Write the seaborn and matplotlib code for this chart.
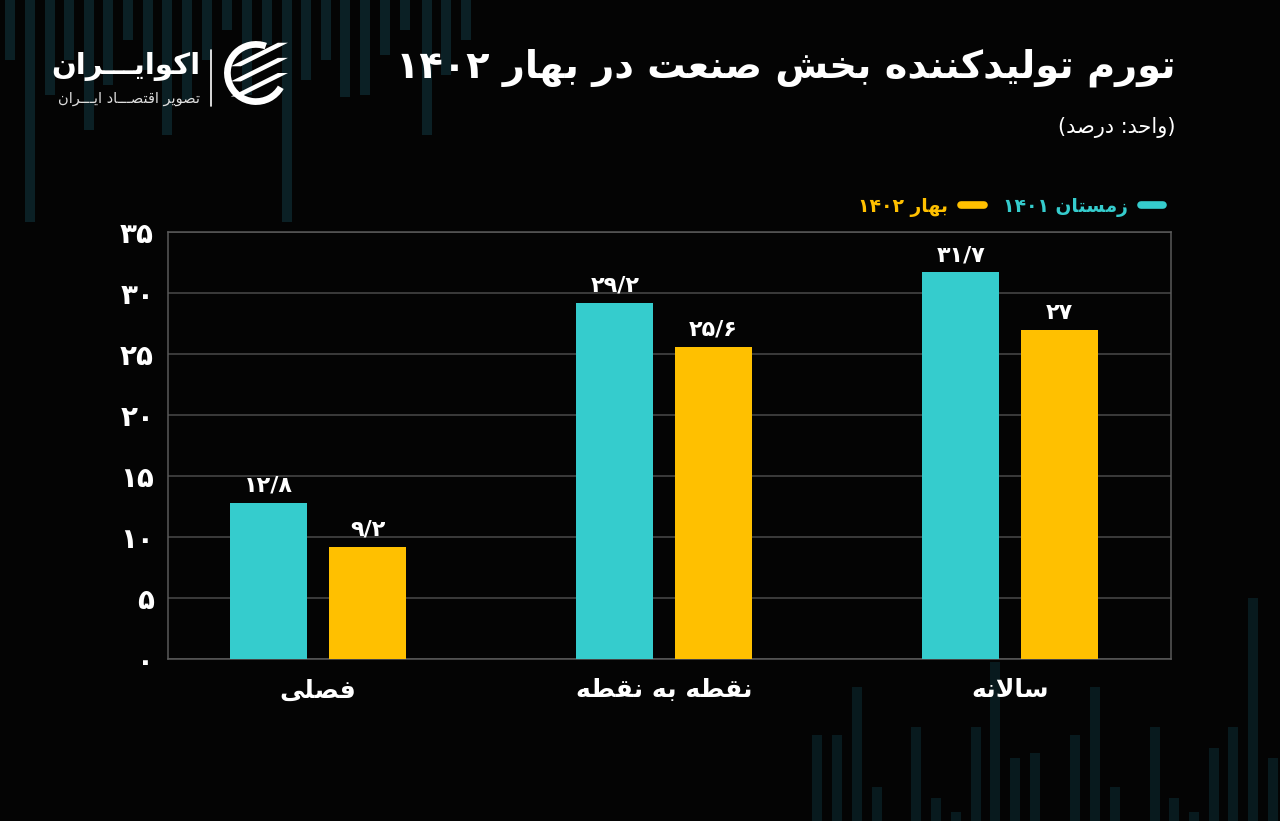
import pandas as pd
import matplotlib
matplotlib.use("Agg")
import matplotlib.pyplot as plt
from matplotlib.lines import Line2D
from matplotlib.patches import Wedge, Polygon
import seaborn as sns

# chart data
categories = ["فصلی", "نقطه به نقطه", "سالانه"]
series_names = ["زمستان ۱۴۰۱", "بهار ۱۴۰۲"]
winter_1401 = [12.8, 29.2, 31.7]
spring_1402 = [9.2, 25.6, 27.0]
y_ticks = [0, 5, 10, 15, 20, 25, 30, 35]

title = "تورم تولیدکننده بخش صنعت در بهار ۱۴۰۲"
subtitle = "(واحد: درصد)"
brand = "اکوایـــران"
brand_sub = "تصویر اقتصـــاد ایـــران"

# faint decorative columns in the background
deco_top_x = [10, 30, 50, 69, 89, 108, 128, 148, 167, 187, 207, 227, 247, 267, 287, 306, 326, 345, 365, 385, 405, 427, 446, 466]
deco_top_end = [60, 222, 95, 60, 130, 85, 40, 70, 135, 100, 60, 30, 95, 45, 222, 80, 60, 97, 95, 55, 30, 135, 75, 40]
deco_bot_x = [817, 837, 857, 877, 916, 936, 956, 976, 995, 1015, 1035, 1075, 1095, 1115, 1155, 1174, 1194, 1214, 1233, 1253, 1273]
deco_bot_start = [735, 735, 687, 787, 727, 798, 812, 727, 662, 758, 753, 735, 687, 787, 727, 798, 812, 748, 727, 598, 758]

CYAN = "#35cccd"
YELLOW = "#ffc000"
BG = "#040404"

# --- minimal Persian shaping (no arabic_reshaper available) ---
FORMS = {
    "ا": ("\ufe8d", "\ufe8e", None, None),
    "ب": ("\ufe8f", "\ufe90", "\ufe91", "\ufe92"),
    "ت": ("\ufe95", "\ufe96", "\ufe97", "\ufe98"),
    "ح": ("\ufea1", "\ufea2", "\ufea3", "\ufea4"),
    "خ": ("\ufea5", "\ufea6", "\ufea7", "\ufea8"),
    "د": ("\ufea9", "\ufeaa", None, None),
    "ر": ("\ufead", "\ufeae", None, None),
    "ز": ("\ufeaf", "\ufeb0", None, None),
    "س": ("\ufeb1", "\ufeb2", "\ufeb3", "\ufeb4"),
    "ش": ("\ufeb5", "\ufeb6", "\ufeb7", "\ufeb8"),
    "ص": ("\ufeb9", "\ufeba", "\ufebb", "\ufebc"),
    "ط": ("\ufec1", "\ufec2", "\ufec3", "\ufec4"),
    "ع": ("\ufec9", "\ufeca", "\ufecb", "\ufecc"),
    "ف": ("\ufed1", "\ufed2", "\ufed3", "\ufed4"),
    "ق": ("\ufed5", "\ufed6", "\ufed7", "\ufed8"),
    "ک": ("\ufb8e", "\ufb8f", "\ufb90", "\ufb91"),
    "ل": ("\ufedd", "\ufede", "\ufedf", "\ufee0"),
    "م": ("\ufee1", "\ufee2", "\ufee3", "\ufee4"),
    "ن": ("\ufee5", "\ufee6", "\ufee7", "\ufee8"),
    "ه": ("\ufee9", "\ufeea", "\ufeeb", "\ufeec"),
    "و": ("\ufeed", "\ufeee", None, None),
    "ی": ("\ufbfc", "\ufbfd", "\ufbfe", "\ufbff"),
    "ـ": ("ـ", "ـ", "ـ", "ـ"),
    "\ue000": ("\ufefb", "\ufefc", None, None),  # lam-alef
}
DIGITS = set("۰۱۲۳۴۵۶۷۸۹/")
MIRROR = {"(": ")", ")": "("}
TO_FA = str.maketrans("0123456789.", "۰۱۲۳۴۵۶۷۸۹/")


def fa(text):
    s = text.replace("لا", "\ue000")
    glyphs = []
    for i, c in enumerate(s):
        if c not in FORMS:
            glyphs.append(c)
            continue
        prev = s[i - 1] if i > 0 else ""
        nxt = s[i + 1] if i + 1 < len(s) else ""
        jp = prev in FORMS and FORMS[prev][2] is not None
        jn = FORMS[c][2] is not None and nxt in FORMS
        iso, fin, ini, med = FORMS[c]
        glyphs.append(med if jp and jn else fin if jp else ini if jn else iso)
    tokens = []
    for g in glyphs:
        if g in DIGITS and tokens and tokens[-1][0] in DIGITS:
            tokens[-1] += g
        else:
            tokens.append(g)
    return "".join(MIRROR.get(t, t) for t in reversed(tokens))


def fa_num(v):
    return f"{v:g}".translate(TO_FA)


sns.set_style("dark")
plt.rcParams["font.family"] = ["DejaVu Sans"]

df = pd.DataFrame({
    "category": [fa(c) for c in categories] * 2,
    "series": [series_names[0]] * 3 + [series_names[1]] * 3,
    "value": winter_1401 + spring_1402,
})

fig = plt.figure(figsize=(12.8, 8.21), dpi=100, facecolor=BG)

# background decoration
bg = fig.add_axes([0, 0, 1, 1], zorder=-5)
bg.set_xlim(0, 1280)
bg.set_ylim(821, 0)
bg.axis("off")
bg.bar(deco_top_x, deco_top_end, bottom=0, width=10, color="#0b2025", linewidth=0)
bg.bar(deco_bot_x, [821 - t for t in deco_bot_start], bottom=deco_bot_start, width=10,
       color="#081a1e", linewidth=0)

ax = fig.add_axes([168 / 1280, 1 - 659 / 821, 1003 / 1280, 427 / 821])
ax.set_facecolor("none")
sns.barplot(data=df, x="category", y="value", hue="series", hue_order=series_names,
            palette=[CYAN, YELLOW], width=0.57, gap=0.218, saturation=1,
            edgecolor="none", linewidth=0, legend=False, ax=ax, zorder=3)

ax.set_xlim(-0.434, 2.465)
ax.set_ylim(0, 35)
ax.set_yticks(y_ticks)
ax.set_yticklabels([fa_num(t) for t in y_ticks])
ax.set_xlabel("")
ax.set_ylabel("")
ax.grid(axis="y", color="#4a4a4a", linewidth=1.1, zorder=0)
ax.grid(axis="x", visible=False)
for sp in ax.spines.values():
    sp.set_visible(True)
    sp.set_color("#5a5a5a")
    sp.set_linewidth(1.1)
ax.tick_params(axis="y", length=0, pad=10, labelsize=20, labelcolor="white")
ax.tick_params(axis="x", length=0, pad=14, labelsize=18, labelcolor="white")
for lab in ax.get_yticklabels() + ax.get_xticklabels():
    lab.set_fontweight("bold")

for cont, vals in zip(ax.containers, [winter_1401, spring_1402]):
    ax.bar_label(cont, labels=[fa_num(v) for v in vals], padding=5,
                 color="white", fontsize=16, fontweight="bold")

# legend (RTL: marker on the right of the text)
handles = [Line2D([], [], color=YELLOW, lw=5.5, solid_capstyle="round"),
           Line2D([], [], color=CYAN, lw=5.5, solid_capstyle="round")]
fig.legend(handles, [fa(series_names[1]), fa(series_names[0])], ncol=2,
           loc="center right", bbox_to_anchor=(1180 / 1280, 1 - 207 / 821),
           markerfirst=False, frameon=False, handlelength=1.2, handletextpad=0.7,
           columnspacing=1.0, labelcolor=[YELLOW, CYAN],
           prop={"size": 13.5, "weight": "bold"})

# titles
fig.text(1176 / 1280, 1 - 68 / 821, fa(title), ha="right", va="center",
         fontsize=27.5, fontweight="bold", color="white")
fig.text(1176 / 1280, 1 - 128 / 821, fa(subtitle), ha="right", va="center",
         fontsize=15, color="white")

# brand block
fig.text(200 / 1280, 1 - 66 / 821, fa(brand), ha="right", va="center",
         fontsize=21, fontweight="bold", color="white")
fig.text(200 / 1280, 1 - 98 / 821, fa(brand_sub), ha="right", va="center",
         fontsize=10.5, color="#dddddd")
fig.add_artist(Line2D([211 / 1280, 211 / 1280], [1 - 50 / 821, 1 - 106 / 821],
                      color="white", lw=1.2))
logo = fig.add_axes([219 / 1280, 1 - 110 / 821, 74 / 1280, 74 / 821])
logo.set_xlim(-1.1, 1.1)
logo.set_ylim(-1.1, 1.1)
logo.set_aspect("equal")
logo.axis("off")
logo.add_patch(Wedge((0, 0), 0.95, 70, 330, width=0.2, color="white", linewidth=0))
for dy in (0.45, 0.0, -0.45):
    logo.add_patch(Polygon([(-0.75, dy - 0.25), (-0.45, dy - 0.25), (0.95, dy + 0.45),
                            (0.65, dy + 0.45)], closed=True, color="white", linewidth=0))

fig.savefig("out.png", dpi=100, facecolor=BG)
